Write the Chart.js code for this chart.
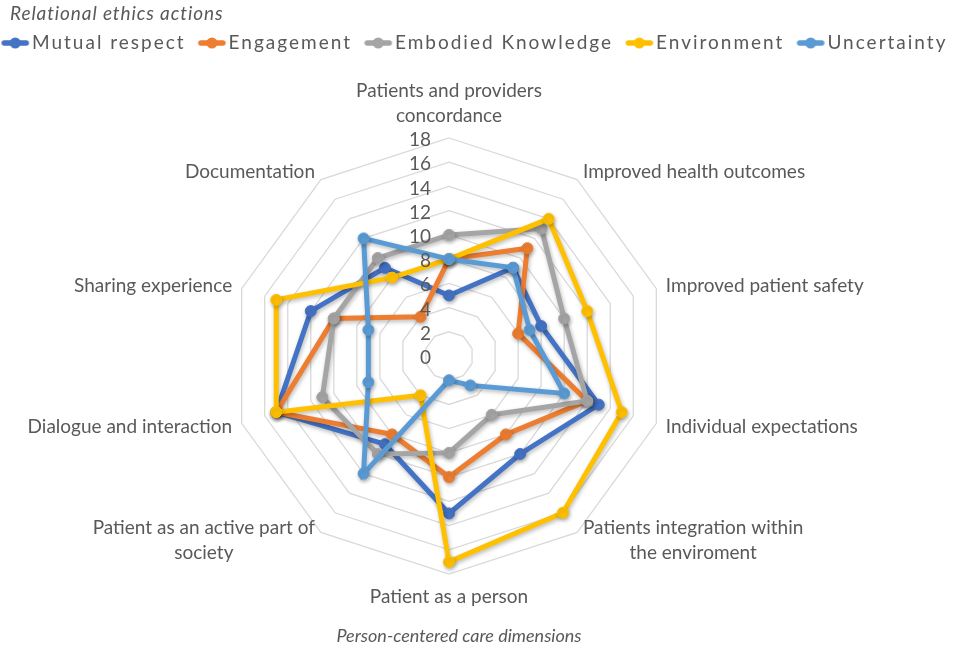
<!DOCTYPE html>
<html>
<head>
<meta charset="utf-8">
<script src="https://cdn.jsdelivr.net/npm/chart.js@4.4.1/dist/chart.umd.min.js"></script>
<style>
  html, body { margin: 0; padding: 0; background: #ffffff; }
  #wrap { width: 957px; height: 654px; position: relative; }
</style>
</head>
<body>
<div id="wrap"><canvas id="chart" width="957" height="654"></canvas></div>
<script>
// ---------------- data ----------------
const categories = [
  ["Patients and providers", "concordance"],
  "Improved health outcomes",
  "Improved patient safety",
  "Individual expectations",
  ["Patients integration within", "the enviroment"],
  "Patient as a person",
  ["Patient as an active part of", "society"],
  "Dialogue and interaction",
  "Sharing experience",
  "Documentation"
];
const seriesNames = ["Mutual respect", "Engagement", "Embodied Knowledge", "Environment", "Uncertainty"];
const mutualRespect     = [5, 9, 8, 13, 10, 13, 9, 15, 12, 9];
const engagement        = [8, 11, 6, 12, 8, 10, 8, 15, 10, 4];
const embodiedKnowledge = [10, 13, 10, 12, 6, 8, 10, 11, 10, 10];
const environment       = [8, 14, 12, 15, 16, 17, 4, 15, 15, 8];
const uncertainty       = [8, 9, 7, 10, 3, 2, 12, 7, 7, 12];
const tickValues = [0, 2, 4, 6, 8, 10, 12, 14, 16, 18];
const legendTitle = "Relational ethics actions";
const axisTitle = "Person-centered care dimensions";

// ---------------- style ----------------
const seriesValues = [mutualRespect, engagement, embodiedKnowledge, environment, uncertainty];
const colors = ["#4472C4", "#ED7D31", "#A5A5A5", "#FFC000", "#5B9BD5"];
const FONT = "Lato, 'Open Sans', sans-serif";
const TEXT = "#595959";
const CENTER_X = 449, CENTER_Y = 356, RADIUS = 218;
const LABEL_PAD = 10, LINE_H = 25;
const LEGEND_SPACING = '2px';
const BOX_W = 19.5;              // legend box width reserved by Chart.js
const MARKER_IMG_W = BOX_W + 15; // image is centred on the box and ends just before the text

function makeMarker(color) {
  const c = document.createElement('canvas');
  c.width = Math.round(MARKER_IMG_W); c.height = 14;
  const g = c.getContext('2d');
  const x1 = c.width - 4, x0 = x1 - 22;
  g.strokeStyle = color; g.lineWidth = 5.5; g.lineCap = 'round';
  g.beginPath(); g.moveTo(x0, 7); g.lineTo(x1, 7); g.stroke();
  g.fillStyle = color;
  g.beginPath(); g.arc((x0 + x1) / 2, 7, 5.5, 0, Math.PI * 2); g.fill();
  return c;
}
const markers = colors.map(makeMarker);

// letter spacing for the legend text (measured and drawn)
const spacingPlugin = {
  id: 'spacing',
  beforeLayout(chart) { chart.ctx.letterSpacing = LEGEND_SPACING; },
  afterLayout(chart) { chart.ctx.letterSpacing = '0px'; },
  beforeDraw(chart) { chart.ctx.letterSpacing = LEGEND_SPACING; },
  beforeDatasetsDraw(chart) { chart.ctx.letterSpacing = '0px'; }
};

const shadowPlugin = {
  id: 'shadow',
  beforeDatasetDraw(chart) {
    const c = chart.ctx; c.save();
    c.shadowColor = 'rgba(0,0,0,0.28)'; c.shadowBlur = 4; c.shadowOffsetX = 1; c.shadowOffsetY = 2;
  },
  afterDatasetDraw(chart) { chart.ctx.restore(); }
};

const textPlugin = {
  id: 'texts',
  afterDraw(chart) {
    const s = chart.scales.r, ctx = chart.ctx;
    ctx.save();
    ctx.letterSpacing = '0px';
    ctx.fillStyle = TEXT;
    ctx.textBaseline = 'middle';
    // top title
    ctx.font = "italic 19px " + FONT;
    ctx.letterSpacing = '0.9px';
    ctx.textAlign = 'left';
    ctx.fillText(legendTitle, 10, 14);
    ctx.letterSpacing = '0px';
    // tick labels
    ctx.font = "19px " + FONT;
    ctx.textAlign = 'right';
    tickValues.forEach(v => {
      const d = s.getDistanceFromCenterForValue(v);
      ctx.fillText(String(v), s.xCenter - 18, s.yCenter - d + 2);
    });
    // point labels
    const n = categories.length;
    categories.forEach((lab, i) => {
      const lines = Array.isArray(lab) ? lab : [lab];
      const p = s.getPointPosition(i, s.drawingArea + LABEL_PAD);
      const bw = Math.max(...lines.map(l => ctx.measureText(l).width));
      const deg = i * 360 / n;
      let left, cy;
      if (deg === 0) { left = p.x - bw / 2; cy = p.y - lines.length * LINE_H / 2; }
      else if (deg === 180) { left = p.x - bw / 2; cy = p.y + lines.length * LINE_H / 2; }
      else if (deg < 180) { left = p.x; cy = p.y; }
      else { left = p.x - bw; cy = p.y; }
      ctx.textAlign = 'center';
      lines.forEach((l, k) => {
        ctx.fillText(l, left + bw / 2, cy + (k - (lines.length - 1) / 2) * LINE_H);
      });
    });
    // bottom title
    ctx.font = "italic 18px " + FONT;
    ctx.textAlign = 'center';
    ctx.fillText(axisTitle, s.xCenter + 10, 636);
    ctx.restore();
  }
};

new Chart(document.getElementById('chart'), {
  type: 'radar',
  data: {
    labels: categories,
    datasets: seriesNames.map((name, i) => ({
      label: name,
      data: seriesValues[i],
      borderColor: colors[i],
      backgroundColor: colors[i],
      pointBackgroundColor: colors[i],
      pointBorderColor: colors[i],
      borderWidth: 5,
      pointRadius: 5.5,
      pointBorderWidth: 1,
      fill: false,
      tension: 0,
      order: seriesNames.length - i
    }))
  },
  options: {
    responsive: false,
    animation: false,
    layout: { padding: { top: 19.5, left: -11, right: -30, bottom: 40 } },
    plugins: {
      title: { display: false },
      tooltip: { enabled: false },
      legend: {
        display: true,
        position: 'top',
        align: 'start',
        labels: {
          usePointStyle: true,
          pointStyleWidth: BOX_W,
          padding: 14,
          color: TEXT,
          font: { family: FONT, size: 19 },
          sort: (a, b) => a.datasetIndex - b.datasetIndex,
          generateLabels(chart) {
            const items = Chart.defaults.plugins.legend.labels.generateLabels(chart);
            items.forEach(it => { it.pointStyle = markers[it.datasetIndex]; });
            return items;
          }
        }
      }
    },
    scales: {
      r: {
        min: 0,
        max: 18,
        ticks: { display: false, stepSize: 2 },
        grid: { color: '#d9d9d9', lineWidth: 1.3, circular: false },
        angleLines: { display: false },
        pointLabels: { display: false },
        afterFit(scale) {
          scale.xCenter = CENTER_X;
          scale.yCenter = CENTER_Y;
          scale.drawingArea = RADIUS;
        }
      }
    }
  },
  plugins: [spacingPlugin, shadowPlugin, textPlugin]
});
</script>
</body>
</html>
